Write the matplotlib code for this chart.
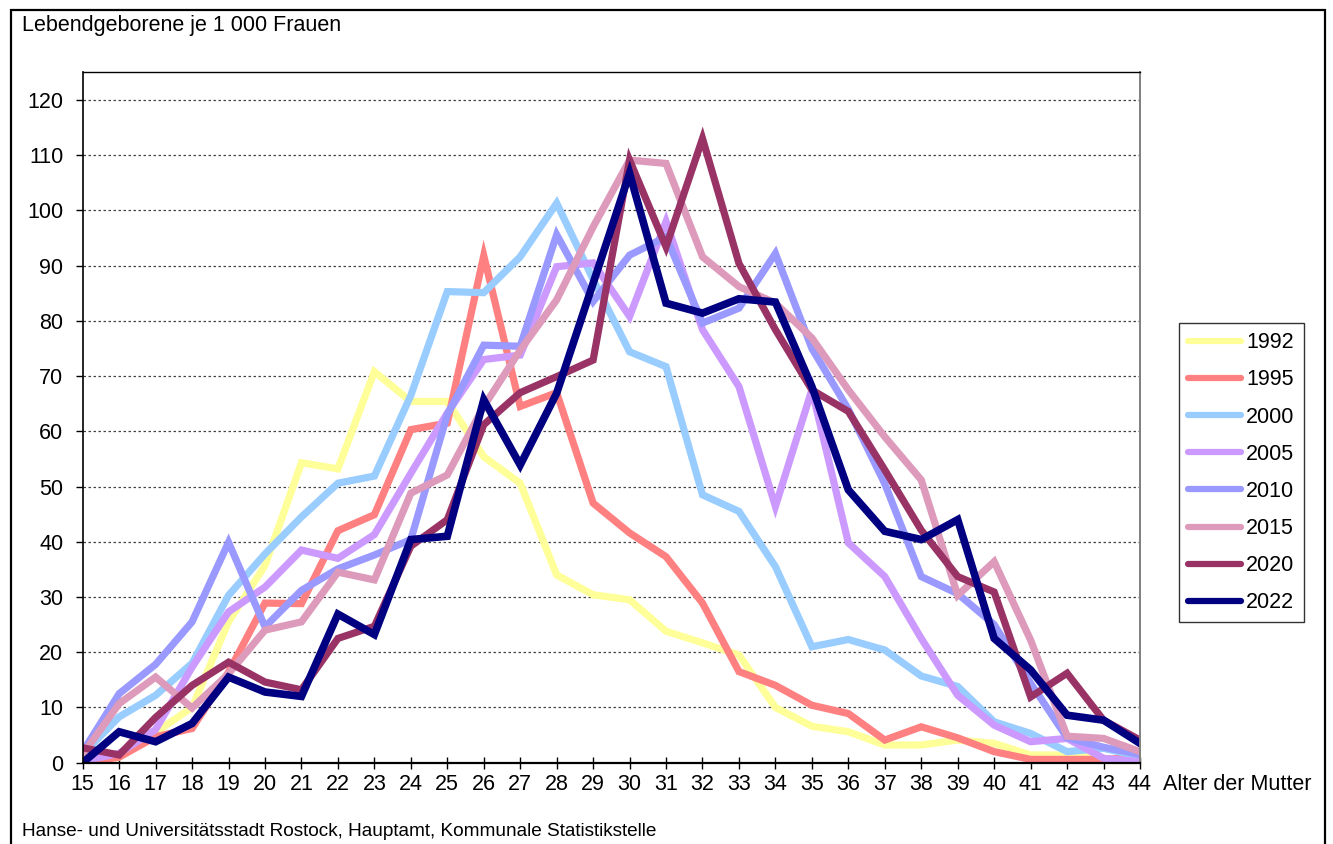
import matplotlib
matplotlib.use("Agg")
import matplotlib.pyplot as plt
from matplotlib.lines import Line2D

plt.rcParams['font.family'] = ['Liberation Sans', 'DejaVu Sans']

# Alter der Mutter
ages = list(range(15, 45))
years = ['1992', '1995', '2000', '2005', '2010', '2015', '2020', '2022']
colors = ['#FFFF99', '#FF8080', '#99CCFF', '#CC99FF', '#9999FF', '#DD9ABB', '#993366', '#000080']

# Lebendgeborene je 1 000 Frauen, je Jahr
v1992 = [0, 1, 5.5, 10, 25.5, 35.7, 54.3, 53.2, 70.8, 65.4, 65.4, 55.4, 50.6, 34.0, 30.4,
         29.5, 23.8, 21.7, 19.5, 10.0, 6.6, 5.6, 3.2, 3.2, 4.1, 3.5, 1.4, 1.4, 0.8, 0.5]
v1995 = [0, 1, 4.7, 6.2, 16.4, 28.9, 28.8, 42.0, 44.9, 60.3, 61.5, 91.8, 64.5, 67.0, 47.0,
         41.6, 37.3, 28.9, 16.5, 14.0, 10.4, 8.9, 4.1, 6.5, 4.5, 2.0, 0.6, 0.6, 0.6, 1.0]
v2000 = [1.5, 8.3, 12.2, 18.0, 30.3, 37.8, 44.5, 50.6, 51.9, 66.5, 85.3, 85.1, 91.6, 101.3, 87.5,
         74.4, 71.7, 48.5, 45.5, 35.5, 21.0, 22.3, 20.4, 15.7, 13.8, 7.4, 5.3, 2.0, 2.6, 1.1]
v2005 = [0.3, 1.7, 6.0, 17.3, 27.3, 31.8, 38.5, 37.0, 41.3, 52.4, 63.3, 73.0, 73.8, 89.8, 90.5,
         80.8, 98.0, 78.4, 68.1, 46.4, 67.5, 39.8, 33.7, 22.5, 12.2, 6.8, 3.8, 4.4, 0.8, 0.2]
v2010 = [2.0, 12.5, 17.8, 25.5, 39.9, 24.6, 31.2, 35.1, 37.6, 40.4, 63.0, 75.6, 75.4, 95.6, 83.5,
         91.9, 95.2, 79.6, 82.3, 92.2, 75.0, 64.0, 50.5, 33.7, 30.6, 25.0, 14.4, 4.5, 2.8, 1.5]
v2015 = [1.5, 10.7, 15.5, 9.9, 16.1, 24.0, 25.5, 34.5, 33.1, 48.8, 52.1, 64.5, 74.7, 83.8, 97.0,
         109.1, 108.5, 91.6, 86.2, 83.2, 76.9, 67.5, 59.0, 51.2, 30.3, 36.4, 22.2, 4.8, 4.4, 2.0]
v2020 = [2.7, 1.4, 8.2, 14.0, 18.2, 14.6, 13.2, 22.5, 24.7, 39.2, 44.0, 61.2, 67.0, 69.9, 72.9,
         109.1, 93.4, 113.0, 90.4, 78.4, 67.5, 63.6, 53.0, 42.1, 33.7, 30.9, 11.9, 16.2, 7.7, 4.1]
v2022 = [0.0, 5.6, 3.8, 7.1, 15.5, 12.8, 12.0, 26.9, 23.2, 40.4, 41.0, 65.7, 53.9, 66.9, 86.8,
         106.7, 83.2, 81.4, 84.0, 83.4, 68.1, 49.4, 41.9, 40.4, 44.0, 22.5, 16.8, 8.6, 7.7, 3.5]
series = [v1992, v1995, v2000, v2005, v2010, v2015, v2020, v2022]

W, H = 1333, 844
fs = 15.5
fig = plt.figure(figsize=(W / 100, H / 100), dpi=100)
ax = fig.add_axes([82.7 / W, 1 - 762.7 / H, (1140 - 82.7) / W, (762.7 - 72.3) / H])

# Gitterlinien gepunktet
for v in range(10, 130, 10):
    ax.axhline(v, color='#444444', lw=0.9, ls=(0, (2, 2)), zorder=1)

for y, vals, c in zip(years, series, colors):
    lw = 5.5 if y == '2022' else 5.2
    ax.plot(ages, vals, color=c, lw=lw, label=y, solid_joinstyle='miter', zorder=2)

ax.set_xlim(15, 44)
ax.set_ylim(0, 125)
ax.set_xticks(ages)
ax.set_yticks(range(0, 121, 10))
ax.tick_params(axis='both', labelsize=fs, color='black')
ax.tick_params(axis='x', direction='inout', length=8, width=1, pad=4)
ax.tick_params(axis='y', direction='out', length=5, width=1, pad=9)

for s in ['left', 'bottom', 'top']:
    ax.spines[s].set_color('black')
ax.spines['left'].set_linewidth(1.2)
ax.spines['bottom'].set_linewidth(1.6)
ax.spines['top'].set_linewidth(1.0)
ax.spines['right'].set_color('#808080')
ax.spines['right'].set_linewidth(1.4)

# Legende
handles = [Line2D([], [], color=c, lw=4.5, solid_capstyle='round') for c in colors]
leg = fig.legend(handles, years, loc='upper left',
                 bbox_to_anchor=(1179 / W, 1 - 323.3 / H), fontsize=fs,
                 frameon=True, fancybox=False, borderpad=0.42, labelspacing=0.75,
                 handlelength=2.45, handletextpad=0.25, borderaxespad=0)
leg.get_frame().set_edgecolor('black')
leg.get_frame().set_linewidth(1.0)

# Texte
fig.text(22 / W, 1 - 26 / H, 'Lebendgeborene je 1 000 Frauen', fontsize=fs,
         ha='left', va='center')
fig.text(1163 / W, 1 - 784 / H, 'Alter der Mutter', fontsize=fs, ha='left', va='center')
fig.text(22 / W, 1 - 831 / H,
         'Hanse- und Universitätsstadt Rostock, Hauptamt, Kommunale Statistikstelle',
         fontsize=13.7, ha='left', va='center')

# Rahmen um die ganze Grafik
fig.add_artist(plt.Rectangle((11 / W, -0.01), (1325 - 11) / W, 1.01 - 10 / H,
                             transform=fig.transFigure, fill=False,
                             edgecolor='black', lw=1.6))

fig.savefig('out.png', dpi=100)
